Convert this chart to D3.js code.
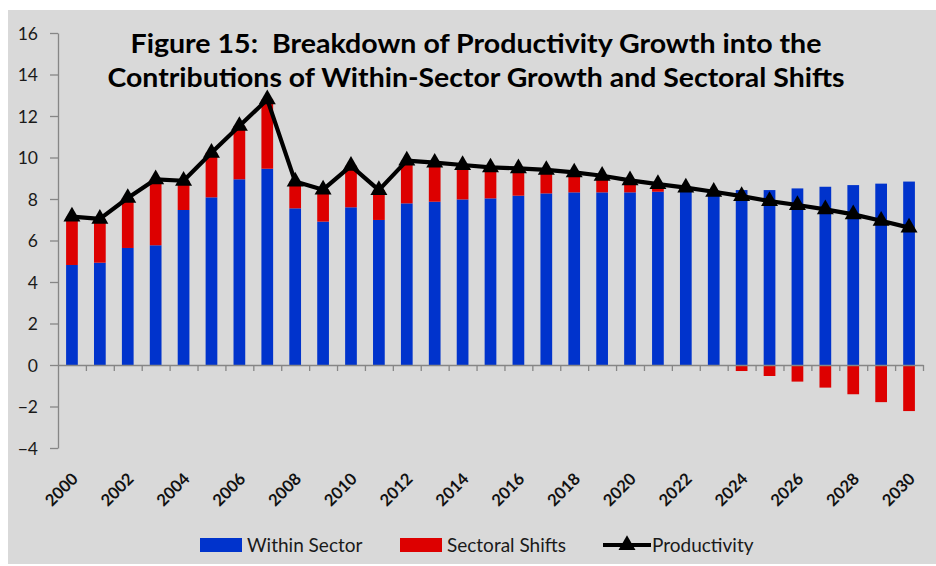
<!DOCTYPE html>
<html>
<head>
<meta charset="utf-8">
<script src="https://cdn.jsdelivr.net/npm/d3@7/dist/d3.min.js"></script>
<style>
  html, body { margin: 0; padding: 0; background: #ffffff; }
  svg { display: block; }
  text { font-family: Lato, "Open Sans", "DejaVu Sans", sans-serif; }
</style>
</head>
<body>
<svg id="chart" width="936" height="566"></svg>
<script>
// Years on the category axis
const years = [2000, 2001, 2002, 2003, 2004, 2005, 2006, 2007, 2008, 2009,
               2010, 2011, 2012, 2013, 2014, 2015, 2016, 2017, 2018, 2019,
               2020, 2021, 2022, 2023, 2024, 2025, 2026, 2027, 2028, 2029, 2030];

// Contribution of growth within each sector (percentage points)
const withinSector = [4.82, 4.93, 5.64, 5.77, 7.47, 8.08, 8.95, 9.46, 7.55, 6.91,
                      7.60, 6.99, 7.79, 7.87, 7.98, 8.03, 8.16, 8.27, 8.32, 8.32,
                      8.32, 8.35, 8.37, 8.40, 8.43, 8.43, 8.51, 8.59, 8.67, 8.74, 8.84];

// Contribution of shifts between sectors (percentage points)
const sectoralShifts = [2.33, 2.11, 2.41, 3.18, 1.41, 2.15, 2.57, 3.34, 1.29, 1.54,
                        2.00, 1.44, 2.06, 1.88, 1.66, 1.49, 1.32, 1.13, 0.96, 0.80,
                        0.58, 0.37, 0.18, -0.05, -0.29, -0.53, -0.80, -1.09, -1.41, -1.79, -2.22];

// Total productivity growth
const productivity = [7.15, 7.04, 8.05, 8.95, 8.88, 10.23, 11.52, 12.80, 8.84, 8.45,
                      9.60, 8.43, 9.85, 9.75, 9.64, 9.52, 9.48, 9.40, 9.28, 9.12,
                      8.90, 8.72, 8.55, 8.35, 8.14, 7.90, 7.71, 7.50, 7.26, 6.95, 6.62];

const yTicks = [-4, -2, 0, 2, 4, 6, 8, 10, 12, 14, 16];
const labelYears = [2000, 2002, 2004, 2006, 2008, 2010, 2012, 2014, 2016,
                    2018, 2020, 2022, 2024, 2026, 2028, 2030];

const titleLines = [
  "Figure 15:  Breakdown of Productivity Growth into the",
  "Contributions of Within-Sector Growth and Sectoral Shifts"
];
const legendItems = ["Within Sector", "Sectoral Shifts", "Productivity"];

const COLORS = { within: "#0033cc", shifts: "#dd0000", line: "#000000", axis: "#868686" };

const svg = d3.select("#chart");

// Chart area background
svg.append("rect")
  .attr("x", 8).attr("y", 10)
  .attr("width", 928).attr("height", 554)
  .attr("fill", "#d9d9d9");

const plot = { left: 58, right: 923, top: 33, bottom: 448 };

const x = d3.scaleBand()
  .domain(years)
  .range([plot.left, plot.right])
  .paddingInner(0.58)
  .paddingOuter(0.29);

const y = d3.scaleLinear()
  .domain([-4, 16])
  .range([plot.bottom, plot.top]);

// Bars: within-sector from zero, sectoral shifts stacked on top (or below zero when negative)
const rows = years.map((yr, i) => ({
  year: yr,
  within: withinSector[i],
  shifts: sectoralShifts[i],
  prod: productivity[i]
}));

const bars = svg.append("g");
bars.selectAll("rect.within")
  .data(rows)
  .join("rect")
  .attr("class", "within")
  .attr("x", d => x(d.year))
  .attr("width", x.bandwidth())
  .attr("y", d => y(d.within))
  .attr("height", d => y(0) - y(d.within))
  .attr("fill", COLORS.within);

bars.selectAll("rect.shifts")
  .data(rows)
  .join("rect")
  .attr("class", "shifts")
  .attr("x", d => x(d.year))
  .attr("width", x.bandwidth())
  .attr("y", d => d.shifts >= 0 ? y(d.within + d.shifts) : y(0))
  .attr("height", d => Math.abs(y(d.shifts) - y(0)))
  .attr("fill", COLORS.shifts);

// Y axis
const yAxis = svg.append("g")
  .attr("transform", `translate(${plot.left},0)`)
  .call(d3.axisLeft(y).tickValues(yTicks).tickSize(8).tickPadding(12).tickSizeOuter(0));
yAxis.select(".domain").attr("stroke", COLORS.axis).attr("stroke-width", 1.3);
yAxis.selectAll(".tick line").attr("stroke", COLORS.axis).attr("stroke-width", 1.3);
yAxis.selectAll(".tick text")
  .attr("fill", "#1a1a1a")
  .style("font-size", "17.5px")
  .attr("dy", "0.36em");

// Zero line with category boundary ticks
const idx = d3.scaleLinear().domain([0, years.length]).range([plot.left, plot.right]);
const zeroAxis = svg.append("g")
  .attr("transform", `translate(0,${y(0)})`)
  .call(d3.axisBottom(idx).tickValues(d3.range(1, years.length + 1)).tickFormat("").tickSize(6).tickSizeOuter(0));
zeroAxis.select(".domain").attr("stroke", COLORS.axis).attr("stroke-width", 1.3);
zeroAxis.selectAll(".tick line").attr("stroke", COLORS.axis).attr("stroke-width", 1.3);

// Rotated year labels below the plot
const xLabels = svg.append("g")
  .attr("transform", `translate(0,${plot.bottom})`)
  .call(d3.axisBottom(x).tickValues(labelYears).tickSize(0).tickPadding(0));
xLabels.select(".domain").remove();
xLabels.selectAll(".tick text")
  .attr("text-anchor", "end")
  .attr("fill", "#111")
  .style("font-size", "16.5px")
  .style("font-weight", "700")
  .attr("transform", "translate(3,28) rotate(-45)")
  .attr("dy", "0.35em")
  .attr("y", 0);

// Productivity line with triangle markers
const line = d3.line()
  .x(d => x(d.year) + x.bandwidth() / 2)
  .y(d => y(d.prod));
svg.append("path")
  .datum(rows)
  .attr("d", line)
  .attr("fill", "none")
  .attr("stroke", COLORS.line)
  .attr("stroke-width", 4.2)
  .attr("stroke-linejoin", "round");

const tri = d3.symbol().type(d3.symbolTriangle).size(125);
svg.append("g").selectAll("path")
  .data(rows)
  .join("path")
  .attr("d", tri)
  .attr("transform", d => `translate(${x(d.year) + x.bandwidth() / 2},${y(d.prod)})`)
  .attr("fill", COLORS.line);

// Title
const titleWidths = [691, 737];
svg.append("g").selectAll("text")
  .data(titleLines)
  .join("text")
  .attr("x", 476)
  .attr("y", (d, i) => 53 + i * 34)
  .attr("text-anchor", "middle")
  .attr("fill", "#000")
  .attr("textLength", (d, i) => titleWidths[i])
  .attr("lengthAdjust", "spacingAndGlyphs")
  .style("white-space", "pre")
  .style("font-size", "27px")
  .style("font-weight", "700")
  .text(d => d);

// Legend
const legend = svg.append("g").attr("transform", "translate(0,545)");
const legendX = [200, 400, 603];
legend.append("rect").attr("x", legendX[0]).attr("y", -7).attr("width", 42).attr("height", 14).attr("fill", COLORS.within);
legend.append("rect").attr("x", legendX[1]).attr("y", -7).attr("width", 42).attr("height", 14).attr("fill", COLORS.shifts);
legend.append("line").attr("x1", legendX[2]).attr("x2", legendX[2] + 48).attr("y1", 0).attr("y2", 0)
  .attr("stroke", COLORS.line).attr("stroke-width", 4.2);
legend.append("path").attr("d", tri).attr("transform", `translate(${legendX[2] + 24},0)`).attr("fill", COLORS.line);
legend.selectAll("text")
  .data(legendItems)
  .join("text")
  .attr("x", (d, i) => [247, 447, 652][i])
  .attr("y", 0)
  .attr("dy", "0.35em")
  .attr("fill", "#1a1a1a")
  .style("font-size", "19px")
  .text(d => d);
</script>
</body>
</html>
